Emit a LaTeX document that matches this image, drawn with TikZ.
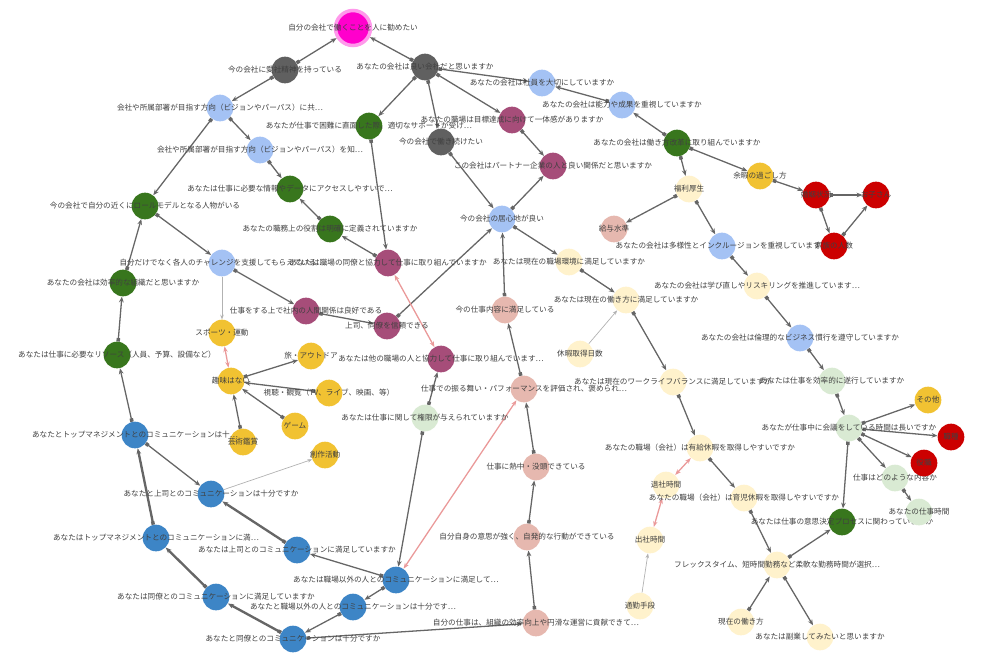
\documentclass[tikz,border=0pt]{standalone}
\usepackage{fontspec}
\setmainfont{Noto Sans CJK JP}
\usetikzlibrary{arrows.meta,backgrounds}
\definecolor{hot}{RGB}{255,0,204}
\definecolor{grey}{RGB}{96,96,96}
\definecolor{sky}{RGB}{164,194,244}
\definecolor{leaf}{RGB}{56,118,29}
\definecolor{plum}{RGB}{166,77,121}
\definecolor{salmon}{RGB}{230,184,175}
\definecolor{cream}{RGB}{255,242,204}
\definecolor{mint}{RGB}{217,234,211}
\definecolor{gold}{RGB}{241,194,50}
\definecolor{crimson}{RGB}{204,0,0}
\definecolor{ocean}{RGB}{61,133,198}
\definecolor{rose}{RGB}{234,153,153}
\tikzset{
  dot/.style={circle, minimum size=0.8cm, inner sep=0pt},
  lbl/.style={font=\fontsize{6.5}{7}\selectfont, text=black!75},
  link/.style={draw=black!60, line width=1.1pt, {Square[length=3pt,width=3pt]}-{Stealth[length=5pt,width=4pt]}},
  bold link/.style={link, line width=2pt},
  thin link/.style={draw=black!30, line width=0.6pt, -{Stealth[length=4pt]}},
  pink link/.style={draw=rose, line width=1.1pt, -{Stealth[length=5pt]}}
}
\begin{document}
\begin{tikzpicture}[x=0.03cm, y=-0.03cm]
    \useasboundingbox (0,0) rectangle (981,662);

    % Nodes
    \node[dot, minimum size=1.05cm, fill=hot, draw=hot!40, line width=3pt,
          label={[lbl]center:自分の会社で働くことを人に勧めたい}] (top) at (353,28) {};
    \foreach \n/\x/\y/\c/\t in {
        g1/285/70/grey/今の会社に愛社精神を持っている,
        g2/425/67/grey/あなたの会社は良い会社だと思いますか,
        g3/441/142/grey/今の会社で働き続けたい,
        b1/220/108/sky/会社や所属部署が目指す方向（ビジョンやパーパス）に共…,
        b2/260/150/sky/会社や所属部署が目指す方向（ビジョンやパーパス）を知…,
        b3/542/83/sky/あなたの会社は社員を大切にしていますか,
        b4/622/105/sky/あなたの会社は能力や成果を重視していますか,
        b5/502/219/sky/今の会社の居心地が良い,
        b6/222/263/sky/自分だけでなく各人のチャレンジを支援してもらえている…,
        b7/722/246/sky/あなたの会社は多様性とインクルージョンを重視していますか,
        b8/800/338/sky/あなたの会社は倫理的なビジネス慣行を遵守していますか,
        dg1/369/126/leaf/あなたが仕事で困難に直面した際、適切なサポートが受け…,
        dg2/290/189/leaf/あなたは仕事に必要な情報やデータにアクセスしやすいで…,
        dg3/330/229/leaf/あなたの職務上の役割は明確に定義されていますか,
        dg4/145/206/leaf/今の会社で自分の近くにロールモデルとなる人物がいる,
        dg5/123/283/leaf/あなたの会社は効率的な組織だと思いますか,
        dg6/117/355/leaf/あなたは仕事に必要なリソース（人員、予算、設備など）,
        dg7/677/143/leaf/あなたの会社は働き方改革に取り組んでいますか,
        dg8/842/522/leaf/あなたは仕事の意思決定プロセスに関わっていますか,
        p1/512/120/plum/あなたの職場は目標達成に向けて一体感がありますか,
        p2/553/166/plum/この会社はパートナー企業の人と良い関係だと思いますか,
        p3/388/263/plum/あなたは職場の同僚と協力して仕事に取り組んでいますか,
        p4/306/311/plum/仕事をする上で社内の人間関係は良好である,
        p5/387/326/plum/上司、同僚を信頼できる,
        p6/441/359/plum/あなたは他の職場の人と協力して仕事に取り組んでいます…,
        s1/614/229/salmon/給与水準,
        s2/505/310/salmon/今の仕事内容に満足している,
        s3/524/389/salmon/仕事での振る舞い・パフォーマンスを評価され、褒められ…,
        s4/536/467/salmon/仕事に熱中・没頭できている,
        s5/527/537/salmon/自分自身の意思が強く、自発的な行動ができている,
        s6/536/623/salmon/自分の仕事は、組織の効率向上や円滑な運営に貢献できて…,
        y1/689/189/cream/福利厚生,
        y2/569/262/cream/あなたは現在の職場環境に満足していますか,
        y3/626/300/cream/あなたは現在の働き方に満足していますか,
        y4/580/354/cream/休暇取得日数,
        y5/673/382/cream/あなたは現在のワークライフバランスに満足していますか,
        y6/757/286/cream/あなたの会社は学び直しやリスキリングを推進しています…,
        y7/700/448/cream/あなたの職場（会社）は有給休暇を取得しやすいですか,
        y8/666/485/cream/退社時間,
        y9/650/540/cream/出社時間,
        y10/640/606/cream/通勤手段,
        y11/744/498/cream/あなたの職場（会社）は育児休暇を取得しやすいですか,
        y12/777/565/cream/フレックスタイム、短時間勤務など柔軟な勤務時間が選択…,
        y13/741/622/cream/現在の働き方,
        y14/820/637/cream/あなたは副業してみたいと思いますか,
        lg1/832/381/mint/あなたは仕事を効率的に遂行していますか,
        lg2/849/428/mint/あなたが仕事中に会議をしている時間は長いですか,
        lg3/895/478/mint/仕事はどのような内容か,
        lg4/919/512/mint/あなたの仕事時間,
        lg5/425/418/mint/あなたは仕事に関して権限が与えられていますか,
        o1/760/176/gold/余暇の過ごし方,
        o2/222/333/gold/スポーツ・運動,
        o3/311/356/gold/旅・アウトドア,
        o4/231/381/gold/趣味はない,
        o5/329/393/gold/視聴・観覧（TV、ライブ、映画、等）,
        o6/295/426/gold/ゲーム,
        o7/243/442/gold/芸術鑑賞,
        o8/325/455/gold/創作活動,
        o9/928/400/gold/その他,
        r1/816/195/crimson/婚姻状況,
        r2/876/195/crimson/お子さん,
        r3/834/246/crimson/家族の人数,
        r4/951/437/crimson/職種,
        r5/924/463/crimson/役職,
        db1/135/435/ocean/あなたとトップマネジメントとのコミュニケーションは十…,
        db2/211/494/ocean/あなたと上司とのコミュニケーションは十分ですか,
        db3/156/538/ocean/あなたはトップマネジメントとのコミュニケーションに満…,
        db4/297/550/ocean/あなたは上司とのコミュニケーションに満足していますか,
        db5/396/580/ocean/あなたは職場以外の人とのコミュニケーションに満足して…,
        db6/353/607/ocean/あなたと職場以外の人とのコミュニケーションは十分です…,
        db7/216/597/ocean/あなたは同僚とのコミュニケーションに満足していますか,
        db8/293/639/ocean/あなたと同僚とのコミュニケーションは十分ですか} {
        \node[dot, fill=\c, label={[lbl]center:\t}] (\n) at (\x,\y) {};
    }

    % Links
    \begin{scope}[on background layer]
    \foreach \a/\b in {g1/top, g2/top, g1/b1, b1/b2, b1/dg4, b2/dg2, dg3/dg2,
        p3/dg3, dg1/p3, g2/dg1, g2/g3, g2/b3, g2/p1, b4/b3, dg7/b4, p1/p2,
        g3/b5, b5/p2, p5/b5, b5/y2, s2/b5, dg4/b6, dg5/dg4, dg6/dg5, b6/p4,
        p4/p5, lg5/p6, s3/s2, s4/s3, s5/s4, s6/s5, db8/s6, lg5/db5,
        y2/y3, y3/y5, y5/y7, y7/y11, y11/y12, y12/dg8, y13/y12, y12/y14,
        dg7/y1, dg7/o1, y1/s1, y1/b7, o1/r1, r1/r2, r1/r3, r3/r2, b7/y6,
        y6/b8, b8/lg1, lg1/lg2, lg2/o9, lg2/r4, lg2/r5, lg2/lg3, lg3/lg4,
        lg2/dg8, o4/o3, o5/o4, o6/o4, o7/o4, db1/dg6, db1/db2, db5/db4,
        db5/db6, db6/db8}
        \draw[link] (\a) -- (\b);
    \foreach \a/\b in {db3/db1, db4/db2, db8/db7, db7/db3}
        \draw[bold link] (\a) -- (\b);
    \foreach \a/\b in {b6/o2, y4/y3, y10/y9, db2/o8}
        \draw[thin link] (\a) -- (\b);
    \foreach \a/\b in {p6/p3, s3/db5, y7/y8, y8/y9, o2/o4}
        \draw[pink link, {Stealth[length=5pt]}-{Stealth[length=5pt]}] (\a) -- (\b);
    \end{scope}
\end{tikzpicture}
\end{document}
